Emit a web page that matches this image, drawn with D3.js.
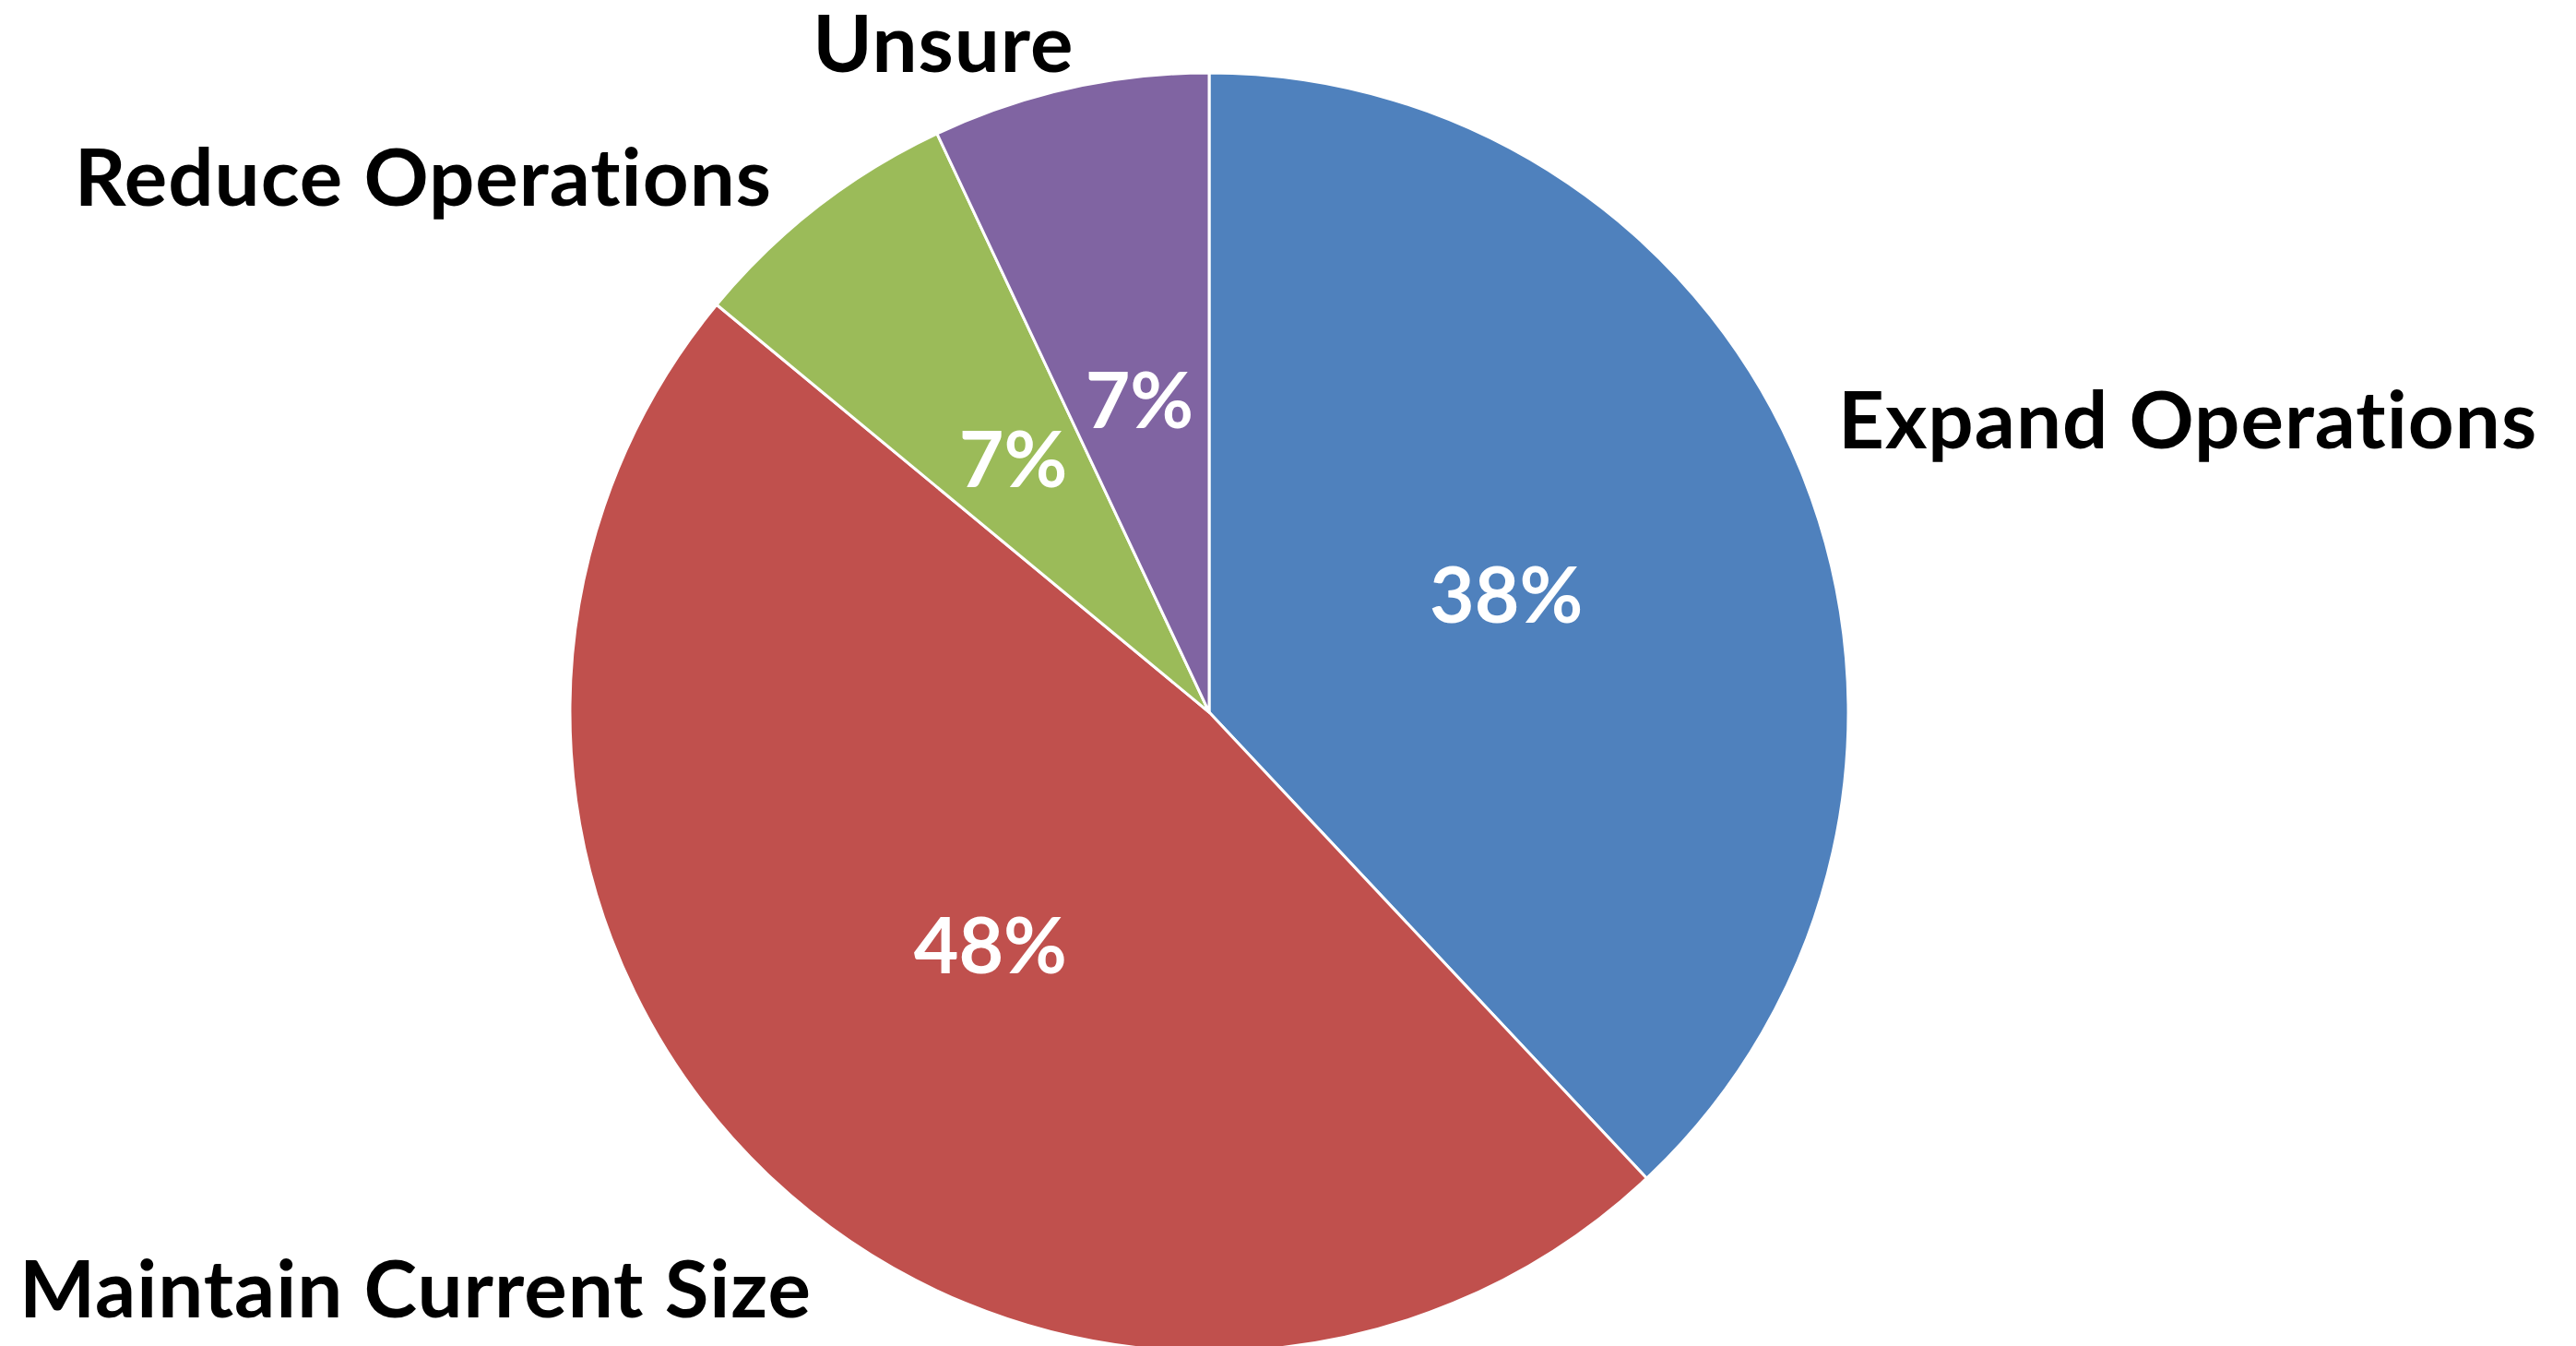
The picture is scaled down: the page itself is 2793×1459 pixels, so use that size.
<!DOCTYPE html>
<html>
<head>
<meta charset="utf-8">
<script src="https://cdn.jsdelivr.net/npm/d3@7"></script>
<style>
  html, body { margin: 0; padding: 0; background: #ffffff; }
  svg { display: block; }
  text { font-variant-ligatures: none; font-feature-settings: "liga" 0, "clig" 0; }
</style>
</head>
<body>
<script>
// ---- data ----
const categories = ["Expand Operations", "Maintain Current Size", "Reduce Operations", "Unsure"];
const values = [38, 48, 7, 7];
const percentLabels = ["38%", "48%", "7%", "7%"];
const colors = ["#4F81BD", "#C0504D", "#9BBB59", "#8064A2"];

// ---- layout ----
const W = 2793, H = 1459;
const cx = 1311, cy = 772, R = 693;
const labelNudge = [[19, -24], [57, 136], [-37, 14], [9, 2]];
const fontFamily = "Lato, 'Open Sans', sans-serif";

const svg = d3.select("body").append("svg")
  .attr("width", W).attr("height", H)
  .style("background", "#ffffff");

const data = categories.map((c, i) => ({ name: c, value: values[i], pct: percentLabels[i], color: colors[i], i }));

const pie = d3.pie().value(d => d.value).sort(null);
const arcs = pie(data);
const arc = d3.arc().innerRadius(0).outerRadius(R);
const outer = d3.arc().innerRadius(R + 20).outerRadius(R + 20);

const g = svg.append("g").attr("transform", `translate(${cx},${cy})`);

g.selectAll("path.slice").data(arcs).join("path")
  .attr("class", "slice")
  .attr("d", arc)
  .attr("fill", d => d.data.color)
  .attr("stroke", "#ffffff")
  .attr("stroke-width", 3)
  .attr("stroke-linejoin", "round");

g.selectAll("text.pct").data(arcs).join("text")
  .attr("class", "pct")
  .attr("x", d => arc.centroid(d)[0])
  .attr("y", d => arc.centroid(d)[1])
  .attr("dy", "0.36em")
  .attr("text-anchor", "middle")
  .attr("fill", "#ffffff")
  .attr("font-family", fontFamily)
  .attr("font-weight", 700)
  .attr("font-size", 84)
  .text(d => d.data.pct);

g.selectAll("text.cat").data(arcs).join("text")
  .attr("class", "cat")
  .attr("x", d => outer.centroid(d)[0] + labelNudge[d.data.i][0])
  .attr("y", d => outer.centroid(d)[1] + labelNudge[d.data.i][1])
  .attr("text-anchor", d => ((d.startAngle + d.endAngle) / 2 < Math.PI ? "start" : "end"))
  .attr("fill", "#000000")
  .attr("font-family", fontFamily)
  .attr("font-weight", 700)
  .attr("font-size", 87)
  .attr("letter-spacing", 1)
  .text(d => d.data.name);
</script>
</body>
</html>
